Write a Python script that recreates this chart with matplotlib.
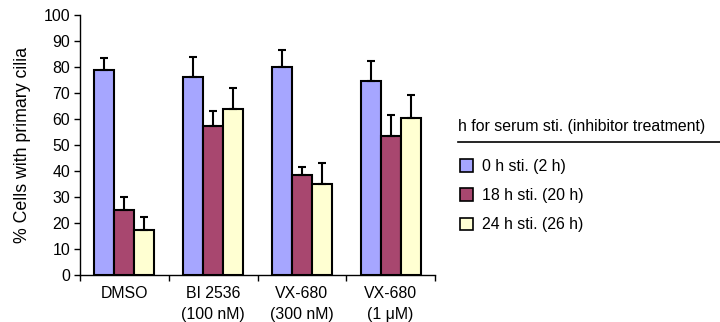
import matplotlib
matplotlib.use("Agg")
import matplotlib.pyplot as plt
import numpy as np
from matplotlib.patches import Patch

plt.rcParams['font.family'] = ['Liberation Sans', 'DejaVu Sans']

categories = ["DMSO", "BI 2536\n(100 nM)", "VX-680\n(300 nM)", "VX-680\n(1 \u03bcM)"]
series_names = ["0 h sti. (2 h)", "18 h sti. (20 h)", "24 h sti. (26 h)"]
values_0h = [79, 76, 80, 74.5]
values_18h = [25, 57.5, 38.5, 53.3]
values_24h = [17.5, 64, 35, 60.2]
err_0h = [4.5, 8, 6.5, 8]
err_18h = [5, 5.5, 3, 8.2]
err_24h = [5, 8, 8, 9]
colors = ["#A6A6FF", "#A8476F", "#FFFFD2"]
legend_title = "h for serum sti. (inhibitor treatment)"

fs = 11.4
fig = plt.figure(figsize=(7.2, 3.22), dpi=100)
ax = fig.add_axes([80/720, 1-275/322, 355/720, 260/322])

x = np.arange(len(categories))
w = 0.225
all_vals = [values_0h, values_18h, values_24h]
all_errs = [err_0h, err_18h, err_24h]
for i, (v, e, c) in enumerate(zip(all_vals, all_errs, colors)):
    pos = x + (i - 1) * w
    ax.bar(pos, v, width=w, color=c, edgecolor="black", linewidth=1.5, zorder=2)
    ax.errorbar(pos, v, yerr=[np.zeros(len(e)), e], fmt="none", ecolor="black",
                elinewidth=1.5, capsize=3, capthick=1.5, zorder=3)

ax.set_xlim(-0.5, len(categories) - 0.5)
ax.set_ylim(0, 100)
ax.set_yticks(np.arange(0, 101, 10))
ax.tick_params(axis="y", labelsize=fs, length=4, width=1, direction="out", pad=3)
ax.set_xticks(np.arange(-0.5, len(categories), 1.0))
ax.set_xticklabels([])
ax.tick_params(axis="x", length=4, width=1, direction="out")
ax.set_xticks(x, minor=True)
ax.set_xticklabels(categories, minor=True, fontsize=fs, linespacing=1.45)
ax.tick_params(axis="x", which="minor", length=0, pad=8)
for s in ["top", "right"]:
    ax.spines[s].set_visible(False)
ax.spines["left"].set_linewidth(1)
ax.spines["bottom"].set_linewidth(1)
ax.set_ylabel("% Cells with primary cilia", fontsize=12.8, labelpad=9)

# legend
fig.text(458/720, 1-127/322, legend_title, fontsize=fs, va="center", ha="left")
fig.add_artist(plt.Line2D([458/720, 720/720], [1-142/322, 1-142/322], color="black", lw=1.2))
handles = [Patch(facecolor=c, edgecolor="black", linewidth=1.2) for c in colors]
fig.legend(handles, series_names, loc="upper left", bbox_to_anchor=(460/720, 1-159/322),
           frameon=False, fontsize=fs, handlelength=0.85, handleheight=0.85,
           handletextpad=0.55, labelspacing=0.9, borderaxespad=0, borderpad=0)

fig.savefig("out.png", dpi=100)
